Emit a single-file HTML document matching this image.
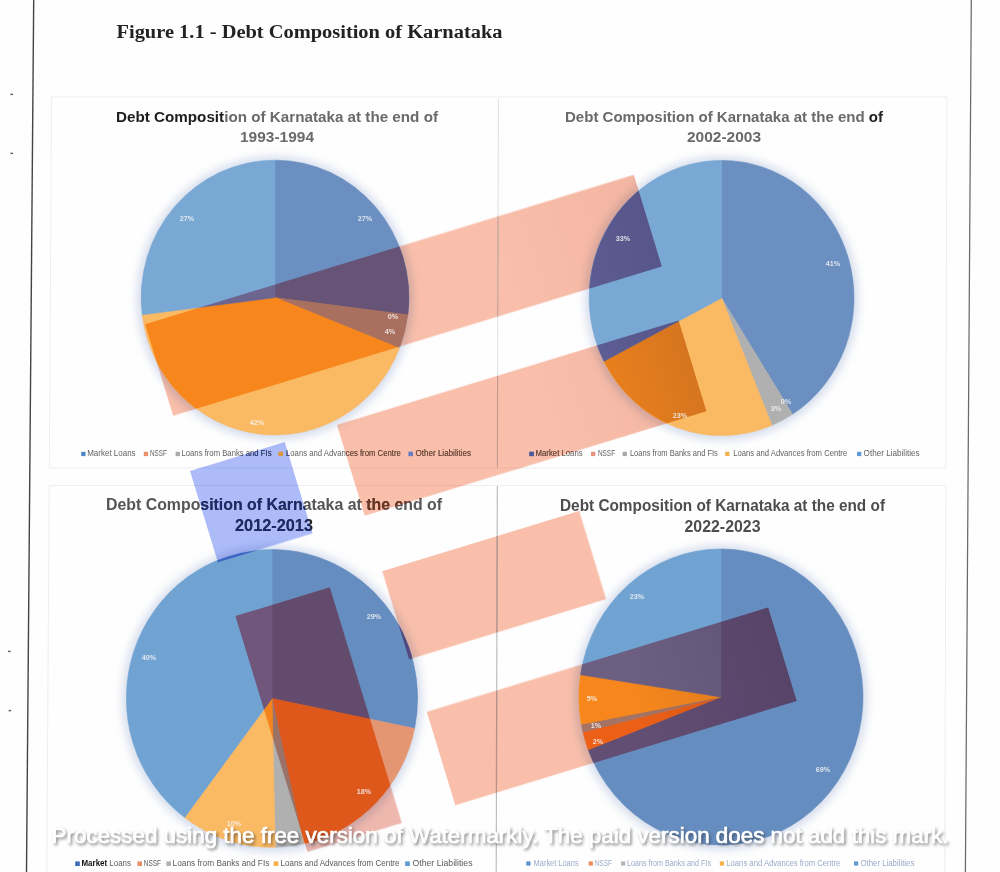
<!DOCTYPE html><html><head><meta charset="utf-8"><title>Figure 1.1</title>
<style>html,body{margin:0;padding:0;background:#fff}svg{display:block}text{font-family:"Liberation Sans",sans-serif}.mul{mix-blend-mode:multiply}</style></head><body>
<svg width="1000" height="872" viewBox="0 0 1000 872">
<defs>
<clipPath id="wS"><rect x="44" y="352.5" width="511.0" height="95.8" transform="rotate(-17.0)"/><rect x="198" y="504.8" width="357.3" height="95.0" transform="rotate(-17.0)"/><rect x="198.5" y="658" width="206.0" height="92.2" transform="rotate(-17.0)"/><rect x="200" y="805.5" width="357.0" height="97.7" transform="rotate(-17.0)"/></clipPath>
<clipPath id="wF"><rect x="45" y="658" width="98.7" height="246.5" transform="rotate(-17.0)"/></clipPath>
<clipPath id="wC"><rect x="44" y="506" width="99.0" height="95.5" transform="rotate(-17.0)"/></clipPath>
<clipPath id="wAll"><rect x="44" y="352.5" width="511.0" height="95.8" transform="rotate(-17.0)"/><rect x="198" y="504.8" width="357.3" height="95.0" transform="rotate(-17.0)"/><rect x="198.5" y="658" width="206.0" height="92.2" transform="rotate(-17.0)"/><rect x="200" y="805.5" width="357.0" height="97.7" transform="rotate(-17.0)"/><rect x="45" y="658" width="98.7" height="246.5" transform="rotate(-17.0)"/><rect x="44" y="506" width="99.0" height="95.5" transform="rotate(-17.0)"/></clipPath>
<clipPath id="wSF"><rect x="44" y="352.5" width="511.0" height="95.8" transform="rotate(-17.0)"/><rect x="198" y="504.8" width="357.3" height="95.0" transform="rotate(-17.0)"/><rect x="198.5" y="658" width="206.0" height="92.2" transform="rotate(-17.0)"/><rect x="200" y="805.5" width="357.0" height="97.7" transform="rotate(-17.0)"/><rect x="45" y="658" width="98.7" height="246.5" transform="rotate(-17.0)"/></clipPath>
<linearGradient id="bg" gradientUnits="userSpaceOnUse" x1="382.5" y1="-116.9" x2="532.7" y2="-162.9"><stop offset="0" stop-color="#1a1030" stop-opacity="0"/><stop offset="1" stop-color="#1a1030" stop-opacity="0.15"/></linearGradient>
<linearGradient id="bgw" gradientUnits="userSpaceOnUse" x1="400" y1="0" x2="557" y2="0"><stop offset="0" stop-color="#a03020" stop-opacity="0"/><stop offset="1" stop-color="#a03020" stop-opacity="0.07"/></linearGradient>
<clipPath id="pc0"><ellipse cx="275.0" cy="297.6" rx="133.8" ry="137.4"/></clipPath>
<clipPath id="pc1"><ellipse cx="721.6" cy="298" rx="132.4" ry="137.6"/></clipPath>
<clipPath id="pc2"><ellipse cx="272" cy="698.4" rx="145.6" ry="148.9"/></clipPath>
<clipPath id="pc3"><ellipse cx="721" cy="697" rx="142" ry="148"/></clipPath>
<filter id="glow" x="-20%" y="-20%" width="140%" height="140%"><feGaussianBlur stdDeviation="4.8"/></filter>
<filter id="tsh" x="-5%" y="-60%" width="110%" height="240%"><feGaussianBlur stdDeviation="1.6"/></filter>
<filter id="soft"><feGaussianBlur stdDeviation="0.45"/></filter>
<filter id="soft2"><feGaussianBlur stdDeviation="0.35"/></filter>
</defs>
<rect width="1000" height="872" fill="#fefefe"/>
<g stroke="#eceef0" stroke-width="1" fill="none"><path d="M51.60,96.8L946.90,96.8L945.89,468L49.30,468Z"/><path d="M46.75,880L49.19,485.5L945.85,485.5L944.78,880"/></g>
<g transform="rotate(-17.0)" filter="url(#soft)">
<rect x="44" y="352.5" width="511.0" height="95.8" fill="#f9bfab"/>
<rect x="198" y="504.8" width="357.3" height="95.0" fill="#f9bfab"/>
<rect x="198.5" y="658" width="206.0" height="92.2" fill="#f9bfab"/>
<rect x="200" y="805.5" width="357.0" height="97.7" fill="#f9bfab"/>
<rect x="45" y="658" width="98.7" height="246.5" fill="#efb8ae"/>
<rect x="44" y="352.5" width="511.0" height="95.8" fill="url(#bgw)"/>
<rect x="198" y="504.8" width="357.3" height="95.0" fill="url(#bgw)"/>
<rect x="198.5" y="658" width="206.0" height="92.2" fill="url(#bgw)"/>
<rect x="200" y="805.5" width="357.0" height="97.7" fill="url(#bgw)"/>
<rect x="44" y="506" width="99.0" height="95.5" fill="#adbbf9"/>
</g>
<line x1="498.40" y1="98" x2="497.35" y2="468" stroke="#dfe2e2" stroke-width="1"/>
<line x1="497.30" y1="486" x2="496.20" y2="872" stroke="#b4baba" stroke-width="1.1"/>
<g clip-path="url(#wSF)"><line x1="498.40" y1="98" x2="497.35" y2="468" stroke="#c89a90" stroke-width="1.2"/><line x1="497.30" y1="486" x2="496.20" y2="872" stroke="#b89088" stroke-width="1.3"/><g stroke="#efb5a3" stroke-width="1" fill="none"><path d="M51.60,96.8L946.90,96.8L945.89,468L49.30,468Z"/><path d="M46.75,880L49.19,485.5L945.85,485.5L944.78,880"/></g></g>
<g clip-path="url(#wC)"><g stroke="#9fafee" stroke-width="1" fill="none"><path d="M51.60,96.8L946.90,96.8L945.89,468L49.30,468Z"/><path d="M46.75,880L49.19,485.5L945.85,485.5L944.78,880"/></g></g>
<line x1="33.7" y1="0" x2="26.5" y2="872" stroke="#454545" stroke-width="1.4"/>
<line x1="971.3" y1="0" x2="965.4" y2="872" stroke="#6a6a6a" stroke-width="1.25"/>
<rect x="10.399999999999999" y="93.7" width="2.6" height="1.4" fill="#5a5a5a"/>
<rect x="10.399999999999999" y="152.70000000000002" width="2.6" height="1.4" fill="#5a5a5a"/>
<rect x="8.1" y="650.6999999999999" width="2.6" height="1.4" fill="#5a5a5a"/>
<rect x="8.6" y="709.9" width="2.6" height="1.4" fill="#5a5a5a"/>
<g filter="url(#soft2)">
<text x="277" y="122" text-anchor="middle" font-size="14.4" font-weight="bold" fill="#6a6a6a" textLength="322" lengthAdjust="spacingAndGlyphs"><tspan fill="#1e1e1e">Debt Composit</tspan>ion of Karnataka at the end of</text><text x="277" y="141.6" text-anchor="middle" font-size="14.4" font-weight="bold" fill="#6a6a6a" textLength="74" lengthAdjust="spacingAndGlyphs">1993-1994</text>
<text x="724" y="122" text-anchor="middle" font-size="14.4" font-weight="bold" fill="#6a6a6a" textLength="318" lengthAdjust="spacingAndGlyphs">Debt Composition of Karnataka at the end <tspan fill="#222">of</tspan></text><text x="724" y="141.6" text-anchor="middle" font-size="14.4" font-weight="bold" fill="#6a6a6a" textLength="74" lengthAdjust="spacingAndGlyphs">2002-2003</text>
<text x="274" y="510.3" text-anchor="middle" font-size="16.2" font-weight="bold" fill="#555555" textLength="336" lengthAdjust="spacingAndGlyphs">Debt Composition of Karnataka at the end of</text><text x="274" y="530.7" text-anchor="middle" font-size="16.2" font-weight="bold" fill="#555555" textLength="78" lengthAdjust="spacingAndGlyphs">2012-201<tspan fill="#222">3</tspan></text>
<text x="722.5" y="511.1" text-anchor="middle" font-size="15.8" font-weight="bold" fill="#4e4e4e" textLength="325" lengthAdjust="spacingAndGlyphs">Debt Composition of Karnataka at the end of</text><text x="722.5" y="531.6" text-anchor="middle" font-size="15.8" font-weight="bold" fill="#4e4e4e" textLength="76" lengthAdjust="spacingAndGlyphs">2022-2023</text>
</g>
<g clip-path="url(#wS)" filter="url(#soft2)">
<text x="277" y="122" text-anchor="middle" font-size="14.4" font-weight="bold" fill="#6b3420" textLength="322" lengthAdjust="spacingAndGlyphs">Debt Composition of Karnataka at the end of</text><text x="277" y="141.6" text-anchor="middle" font-size="14.4" font-weight="bold" fill="#6b3420" textLength="74" lengthAdjust="spacingAndGlyphs">1993-1994</text>
<text x="724" y="122" text-anchor="middle" font-size="14.4" font-weight="bold" fill="#6b3420" textLength="318" lengthAdjust="spacingAndGlyphs">Debt Composition of Karnataka at the end of</text><text x="724" y="141.6" text-anchor="middle" font-size="14.4" font-weight="bold" fill="#6b3420" textLength="74" lengthAdjust="spacingAndGlyphs">2002-2003</text>
<text x="274" y="510.3" text-anchor="middle" font-size="16.2" font-weight="bold" fill="#6b3420" textLength="336" lengthAdjust="spacingAndGlyphs">Debt Composition of Karnataka at the end of</text><text x="274" y="530.7" text-anchor="middle" font-size="16.2" font-weight="bold" fill="#6b3420" textLength="78" lengthAdjust="spacingAndGlyphs">2012-2013</text>
<text x="722.5" y="511.1" text-anchor="middle" font-size="15.8" font-weight="bold" fill="#6b3420" textLength="325" lengthAdjust="spacingAndGlyphs">Debt Composition of Karnataka at the end of</text><text x="722.5" y="531.6" text-anchor="middle" font-size="15.8" font-weight="bold" fill="#6b3420" textLength="76" lengthAdjust="spacingAndGlyphs">2022-2023</text>
</g>
<g clip-path="url(#wC)" filter="url(#soft2)">
<text x="277" y="122" text-anchor="middle" font-size="14.4" font-weight="bold" fill="#1c2a68" textLength="322" lengthAdjust="spacingAndGlyphs">Debt Composition of Karnataka at the end of</text><text x="277" y="141.6" text-anchor="middle" font-size="14.4" font-weight="bold" fill="#1c2a68" textLength="74" lengthAdjust="spacingAndGlyphs">1993-1994</text>
<text x="724" y="122" text-anchor="middle" font-size="14.4" font-weight="bold" fill="#1c2a68" textLength="318" lengthAdjust="spacingAndGlyphs">Debt Composition of Karnataka at the end of</text><text x="724" y="141.6" text-anchor="middle" font-size="14.4" font-weight="bold" fill="#1c2a68" textLength="74" lengthAdjust="spacingAndGlyphs">2002-2003</text>
<text x="274" y="510.3" text-anchor="middle" font-size="16.2" font-weight="bold" fill="#1c2a68" textLength="336" lengthAdjust="spacingAndGlyphs">Debt Composition of Karnataka at the end of</text><text x="274" y="530.7" text-anchor="middle" font-size="16.2" font-weight="bold" fill="#1c2a68" textLength="78" lengthAdjust="spacingAndGlyphs">2012-2013</text>
<text x="722.5" y="511.1" text-anchor="middle" font-size="15.8" font-weight="bold" fill="#1c2a68" textLength="325" lengthAdjust="spacingAndGlyphs">Debt Composition of Karnataka at the end of</text><text x="722.5" y="531.6" text-anchor="middle" font-size="15.8" font-weight="bold" fill="#1c2a68" textLength="76" lengthAdjust="spacingAndGlyphs">2022-2023</text>
</g>
<text x="116.5" y="38" style="font-family:'Liberation Serif',serif" font-size="18.5" font-weight="bold" fill="#222" textLength="386" lengthAdjust="spacingAndGlyphs" filter="url(#soft2)">Figure 1.1 - Debt Composition of Karnataka</text>
<g filter="url(#soft2)"><rect x="81.2" y="451.8" width="4.3" height="4.3" fill="#4f86c6"/><text x="87.2" y="456.3" font-size="9" fill="#626262" textLength="48.4" lengthAdjust="spacingAndGlyphs">Market Loans</text><rect x="143.8" y="451.8" width="4.3" height="4.3" fill="#e8906c"/><text x="150" y="456.3" font-size="9" fill="#626262" textLength="17" lengthAdjust="spacingAndGlyphs">NSSF</text><rect x="175.6" y="451.8" width="4.3" height="4.3" fill="#a8a8a8"/><text x="181.5" y="456.3" font-size="9" fill="#626262" textLength="90" lengthAdjust="spacingAndGlyphs">Loans from Banks and FIs</text><rect x="278.6" y="451.8" width="4.3" height="4.3" fill="#e0963c"/><text x="286" y="456.3" font-size="9" fill="#626262" textLength="114.8" lengthAdjust="spacingAndGlyphs">Loans and Advances from Centre</text><rect x="408.6" y="451.8" width="4.3" height="4.3" fill="#6a7ec8"/><text x="415.5" y="456.3" font-size="9" fill="#626262" textLength="55.5" lengthAdjust="spacingAndGlyphs">Other Liabilities</text><rect x="529.4" y="451.8" width="4.3" height="4.3" fill="#4a5a9c"/><text x="535.6" y="456.3" font-size="9" fill="#626262" textLength="47" lengthAdjust="spacingAndGlyphs">Market Loans</text><rect x="591" y="451.8" width="4.3" height="4.3" fill="#e8907a"/><text x="597.9" y="456.3" font-size="9" fill="#626262" textLength="17.2" lengthAdjust="spacingAndGlyphs">NSSF</text><rect x="622.6" y="451.8" width="4.3" height="4.3" fill="#a8a8a8"/><text x="629.9" y="456.3" font-size="9" fill="#626262" textLength="88" lengthAdjust="spacingAndGlyphs">Loans from Banks and FIs</text><rect x="725.2" y="451.8" width="4.3" height="4.3" fill="#f2b050"/><text x="733.2" y="456.3" font-size="9" fill="#626262" textLength="114" lengthAdjust="spacingAndGlyphs">Loans and Advances from Centre</text><rect x="857" y="451.8" width="4.3" height="4.3" fill="#5c9bd8"/><text x="863.6" y="456.3" font-size="9" fill="#626262" textLength="56" lengthAdjust="spacingAndGlyphs">Other Liabilities</text><rect x="75.2" y="861.4" width="4.6" height="4.6" fill="#3c6cb8"/><text x="81.5" y="865.7" font-size="9.3" fill="#5a5a5a" textLength="49.5" lengthAdjust="spacingAndGlyphs"><tspan font-weight="bold" fill="#111">Market</tspan> Loans</text><rect x="137.4" y="861.4" width="4.6" height="4.6" fill="#e8906c"/><text x="143.8" y="865.7" font-size="9.3" fill="#5a5a5a" textLength="17.2" lengthAdjust="spacingAndGlyphs">NSSF</text><rect x="166.4" y="861.4" width="4.6" height="4.6" fill="#b0b0b0"/><text x="172.6" y="865.7" font-size="9.3" fill="#5a5a5a" textLength="96.8" lengthAdjust="spacingAndGlyphs">Loans from Banks and FIs</text><rect x="273.7" y="861.4" width="4.6" height="4.6" fill="#f5b04a"/><text x="280.5" y="865.7" font-size="9.3" fill="#5a5a5a" textLength="119" lengthAdjust="spacingAndGlyphs">Loans and Advances from Centre</text><rect x="405.2" y="861.4" width="4.6" height="4.6" fill="#5c9bd8"/><text x="412.5" y="865.7" font-size="9.3" fill="#5a5a5a" textLength="60" lengthAdjust="spacingAndGlyphs">Other Liabilities</text><rect x="526.3" y="861.4" width="4.2" height="4.2" fill="#5b8ed0"/><text x="533.6" y="865.7" font-size="9" fill="#9cabc8" textLength="45" lengthAdjust="spacingAndGlyphs">Market Loans</text><rect x="588.7" y="861.4" width="4.2" height="4.2" fill="#ee8c5a"/><text x="594.7" y="865.7" font-size="9" fill="#9cabc8" textLength="17.2" lengthAdjust="spacingAndGlyphs">NSSF</text><rect x="621" y="861.4" width="4.2" height="4.2" fill="#b4b4bc"/><text x="627" y="865.7" font-size="9" fill="#9cabc8" textLength="84" lengthAdjust="spacingAndGlyphs">Loans from Banks and FIs</text><rect x="719.8" y="861.4" width="4.2" height="4.2" fill="#f5b04a"/><text x="726.3" y="865.7" font-size="9" fill="#9cabc8" textLength="114" lengthAdjust="spacingAndGlyphs">Loans and Advances from Centre</text><rect x="854" y="861.4" width="4.2" height="4.2" fill="#5c9bd8"/><text x="860.4" y="865.7" font-size="9" fill="#9cabc8" textLength="54" lengthAdjust="spacingAndGlyphs">Other Liabilities</text></g>
<g clip-path="url(#wS)" filter="url(#soft2)"><rect x="81.2" y="451.8" width="4.3" height="4.3" fill="#4f86c6"/><text x="87.2" y="456.3" font-size="9" fill="#7a4632" textLength="48.4" lengthAdjust="spacingAndGlyphs">Market Loans</text><rect x="143.8" y="451.8" width="4.3" height="4.3" fill="#e8906c"/><text x="150" y="456.3" font-size="9" fill="#7a4632" textLength="17" lengthAdjust="spacingAndGlyphs">NSSF</text><rect x="175.6" y="451.8" width="4.3" height="4.3" fill="#a8a8a8"/><text x="181.5" y="456.3" font-size="9" fill="#7a4632" textLength="90" lengthAdjust="spacingAndGlyphs">Loans from Banks and FIs</text><rect x="278.6" y="451.8" width="4.3" height="4.3" fill="#e0963c"/><text x="286" y="456.3" font-size="9" fill="#7a4632" textLength="114.8" lengthAdjust="spacingAndGlyphs">Loans and Advances from Centre</text><rect x="408.6" y="451.8" width="4.3" height="4.3" fill="#6a7ec8"/><text x="415.5" y="456.3" font-size="9" fill="#7a4632" textLength="55.5" lengthAdjust="spacingAndGlyphs">Other Liabilities</text><rect x="529.4" y="451.8" width="4.3" height="4.3" fill="#4a5a9c"/><text x="535.6" y="456.3" font-size="9" fill="#7a4632" textLength="47" lengthAdjust="spacingAndGlyphs">Market Loans</text><rect x="591" y="451.8" width="4.3" height="4.3" fill="#e8907a"/><text x="597.9" y="456.3" font-size="9" fill="#7a4632" textLength="17.2" lengthAdjust="spacingAndGlyphs">NSSF</text><rect x="622.6" y="451.8" width="4.3" height="4.3" fill="#a8a8a8"/><text x="629.9" y="456.3" font-size="9" fill="#7a4632" textLength="88" lengthAdjust="spacingAndGlyphs">Loans from Banks and FIs</text><rect x="725.2" y="451.8" width="4.3" height="4.3" fill="#f2b050"/><text x="733.2" y="456.3" font-size="9" fill="#7a4632" textLength="114" lengthAdjust="spacingAndGlyphs">Loans and Advances from Centre</text><rect x="857" y="451.8" width="4.3" height="4.3" fill="#5c9bd8"/><text x="863.6" y="456.3" font-size="9" fill="#7a4632" textLength="56" lengthAdjust="spacingAndGlyphs">Other Liabilities</text><rect x="75.2" y="861.4" width="4.6" height="4.6" fill="#3c6cb8"/><text x="81.5" y="865.7" font-size="9.3" fill="#7a4632" textLength="49.5" lengthAdjust="spacingAndGlyphs"><tspan font-weight="bold" fill="#111">Market</tspan> Loans</text><rect x="137.4" y="861.4" width="4.6" height="4.6" fill="#e8906c"/><text x="143.8" y="865.7" font-size="9.3" fill="#7a4632" textLength="17.2" lengthAdjust="spacingAndGlyphs">NSSF</text><rect x="166.4" y="861.4" width="4.6" height="4.6" fill="#b0b0b0"/><text x="172.6" y="865.7" font-size="9.3" fill="#7a4632" textLength="96.8" lengthAdjust="spacingAndGlyphs">Loans from Banks and FIs</text><rect x="273.7" y="861.4" width="4.6" height="4.6" fill="#f5b04a"/><text x="280.5" y="865.7" font-size="9.3" fill="#7a4632" textLength="119" lengthAdjust="spacingAndGlyphs">Loans and Advances from Centre</text><rect x="405.2" y="861.4" width="4.6" height="4.6" fill="#5c9bd8"/><text x="412.5" y="865.7" font-size="9.3" fill="#7a4632" textLength="60" lengthAdjust="spacingAndGlyphs">Other Liabilities</text><rect x="526.3" y="861.4" width="4.2" height="4.2" fill="#5b8ed0"/><text x="533.6" y="865.7" font-size="9" fill="#7a4632" textLength="45" lengthAdjust="spacingAndGlyphs">Market Loans</text><rect x="588.7" y="861.4" width="4.2" height="4.2" fill="#ee8c5a"/><text x="594.7" y="865.7" font-size="9" fill="#7a4632" textLength="17.2" lengthAdjust="spacingAndGlyphs">NSSF</text><rect x="621" y="861.4" width="4.2" height="4.2" fill="#b4b4bc"/><text x="627" y="865.7" font-size="9" fill="#7a4632" textLength="84" lengthAdjust="spacingAndGlyphs">Loans from Banks and FIs</text><rect x="719.8" y="861.4" width="4.2" height="4.2" fill="#f5b04a"/><text x="726.3" y="865.7" font-size="9" fill="#7a4632" textLength="114" lengthAdjust="spacingAndGlyphs">Loans and Advances from Centre</text><rect x="854" y="861.4" width="4.2" height="4.2" fill="#5c9bd8"/><text x="860.4" y="865.7" font-size="9" fill="#7a4632" textLength="54" lengthAdjust="spacingAndGlyphs">Other Liabilities</text></g>
<g clip-path="url(#wC)" filter="url(#soft2)"><rect x="81.2" y="451.8" width="4.3" height="4.3" fill="#4f86c6"/><text x="87.2" y="456.3" font-size="9" fill="#27357a" textLength="48.4" lengthAdjust="spacingAndGlyphs">Market Loans</text><rect x="143.8" y="451.8" width="4.3" height="4.3" fill="#e8906c"/><text x="150" y="456.3" font-size="9" fill="#27357a" textLength="17" lengthAdjust="spacingAndGlyphs">NSSF</text><rect x="175.6" y="451.8" width="4.3" height="4.3" fill="#a8a8a8"/><text x="181.5" y="456.3" font-size="9" fill="#27357a" textLength="90" lengthAdjust="spacingAndGlyphs">Loans from Banks and FIs</text><rect x="278.6" y="451.8" width="4.3" height="4.3" fill="#e0963c"/><text x="286" y="456.3" font-size="9" fill="#27357a" textLength="114.8" lengthAdjust="spacingAndGlyphs">Loans and Advances from Centre</text><rect x="408.6" y="451.8" width="4.3" height="4.3" fill="#6a7ec8"/><text x="415.5" y="456.3" font-size="9" fill="#27357a" textLength="55.5" lengthAdjust="spacingAndGlyphs">Other Liabilities</text><rect x="529.4" y="451.8" width="4.3" height="4.3" fill="#4a5a9c"/><text x="535.6" y="456.3" font-size="9" fill="#27357a" textLength="47" lengthAdjust="spacingAndGlyphs">Market Loans</text><rect x="591" y="451.8" width="4.3" height="4.3" fill="#e8907a"/><text x="597.9" y="456.3" font-size="9" fill="#27357a" textLength="17.2" lengthAdjust="spacingAndGlyphs">NSSF</text><rect x="622.6" y="451.8" width="4.3" height="4.3" fill="#a8a8a8"/><text x="629.9" y="456.3" font-size="9" fill="#27357a" textLength="88" lengthAdjust="spacingAndGlyphs">Loans from Banks and FIs</text><rect x="725.2" y="451.8" width="4.3" height="4.3" fill="#f2b050"/><text x="733.2" y="456.3" font-size="9" fill="#27357a" textLength="114" lengthAdjust="spacingAndGlyphs">Loans and Advances from Centre</text><rect x="857" y="451.8" width="4.3" height="4.3" fill="#5c9bd8"/><text x="863.6" y="456.3" font-size="9" fill="#27357a" textLength="56" lengthAdjust="spacingAndGlyphs">Other Liabilities</text><rect x="75.2" y="861.4" width="4.6" height="4.6" fill="#3c6cb8"/><text x="81.5" y="865.7" font-size="9.3" fill="#27357a" textLength="49.5" lengthAdjust="spacingAndGlyphs"><tspan font-weight="bold" fill="#111">Market</tspan> Loans</text><rect x="137.4" y="861.4" width="4.6" height="4.6" fill="#e8906c"/><text x="143.8" y="865.7" font-size="9.3" fill="#27357a" textLength="17.2" lengthAdjust="spacingAndGlyphs">NSSF</text><rect x="166.4" y="861.4" width="4.6" height="4.6" fill="#b0b0b0"/><text x="172.6" y="865.7" font-size="9.3" fill="#27357a" textLength="96.8" lengthAdjust="spacingAndGlyphs">Loans from Banks and FIs</text><rect x="273.7" y="861.4" width="4.6" height="4.6" fill="#f5b04a"/><text x="280.5" y="865.7" font-size="9.3" fill="#27357a" textLength="119" lengthAdjust="spacingAndGlyphs">Loans and Advances from Centre</text><rect x="405.2" y="861.4" width="4.6" height="4.6" fill="#5c9bd8"/><text x="412.5" y="865.7" font-size="9.3" fill="#27357a" textLength="60" lengthAdjust="spacingAndGlyphs">Other Liabilities</text><rect x="526.3" y="861.4" width="4.2" height="4.2" fill="#5b8ed0"/><text x="533.6" y="865.7" font-size="9" fill="#27357a" textLength="45" lengthAdjust="spacingAndGlyphs">Market Loans</text><rect x="588.7" y="861.4" width="4.2" height="4.2" fill="#ee8c5a"/><text x="594.7" y="865.7" font-size="9" fill="#27357a" textLength="17.2" lengthAdjust="spacingAndGlyphs">NSSF</text><rect x="621" y="861.4" width="4.2" height="4.2" fill="#b4b4bc"/><text x="627" y="865.7" font-size="9" fill="#27357a" textLength="84" lengthAdjust="spacingAndGlyphs">Loans from Banks and FIs</text><rect x="719.8" y="861.4" width="4.2" height="4.2" fill="#f5b04a"/><text x="726.3" y="865.7" font-size="9" fill="#27357a" textLength="114" lengthAdjust="spacingAndGlyphs">Loans and Advances from Centre</text><rect x="854" y="861.4" width="4.2" height="4.2" fill="#5c9bd8"/><text x="860.4" y="865.7" font-size="9" fill="#27357a" textLength="54" lengthAdjust="spacingAndGlyphs">Other Liabilities</text></g>
<ellipse class="mul" cx="275.0" cy="298.1" rx="137.8" ry="141.4" fill="#d3dcec" filter="url(#glow)"/>
<g filter="url(#soft)"><path d="M275.0,297.6L275.00,160.20A133.8,137.4 0 0 1 407.74,314.82Z" fill="#6a8fc0" stroke="#6a8fc0" stroke-width="0.6"/><path d="M275.0,297.6L407.74,314.82A133.8,137.4 0 0 1 399.40,348.18Z" fill="#b0b0b0" stroke="#b0b0b0" stroke-width="0.6"/><path d="M275.0,297.6L399.40,348.18A133.8,137.4 0 0 1 142.26,314.82Z" fill="#fab964" stroke="#fab964" stroke-width="0.6"/><path d="M275.0,297.6L142.26,314.82A133.8,137.4 0 0 1 275.00,160.20Z" fill="#7aa8d4" stroke="#7aa8d4" stroke-width="0.6"/></g>
<g clip-path="url(#wS)"><g filter="url(#soft)"><path d="M275.0,297.6L275.00,160.20A133.8,137.4 0 0 1 407.74,314.82Z" fill="#665374" stroke="#665374" stroke-width="0.6"/><path d="M275.0,297.6L407.74,314.82A133.8,137.4 0 0 1 399.40,348.18Z" fill="#aa705f" stroke="#aa705f" stroke-width="0.6"/><path d="M275.0,297.6L399.40,348.18A133.8,137.4 0 0 1 142.26,314.82Z" fill="#f7871a" stroke="#f7871a" stroke-width="0.6"/><path d="M275.0,297.6L142.26,314.82A133.8,137.4 0 0 1 275.00,160.20Z" fill="#6c6590" stroke="#6c6590" stroke-width="0.6"/></g></g>
<g clip-path="url(#wS)"><g clip-path="url(#pc0)"><rect x="0" y="0" width="1000" height="872" fill="url(#bg)"/></g></g>
<g clip-path="url(#wF)"><g filter="url(#soft)"><path d="M275.0,297.6L275.00,160.20A133.8,137.4 0 0 1 407.74,314.82Z" fill="#644c6d" stroke="#644c6d" stroke-width="0.6"/><path d="M275.0,297.6L407.74,314.82A133.8,137.4 0 0 1 399.40,348.18Z" fill="#9a7268" stroke="#9a7268" stroke-width="0.6"/><path d="M275.0,297.6L399.40,348.18A133.8,137.4 0 0 1 142.26,314.82Z" fill="#f5841c" stroke="#f5841c" stroke-width="0.6"/><path d="M275.0,297.6L142.26,314.82A133.8,137.4 0 0 1 275.00,160.20Z" fill="#70577a" stroke="#70577a" stroke-width="0.6"/></g></g>
<g clip-path="url(#wC)"><path d="M275.0,297.6L275.00,160.20A133.8,137.4 0 0 1 407.74,314.82Z" fill="#3f63c4"/><path d="M275.0,297.6L407.74,314.82A133.8,137.4 0 0 1 399.40,348.18Z" fill="#3f63c4"/><path d="M275.0,297.6L399.40,348.18A133.8,137.4 0 0 1 142.26,314.82Z" fill="#3f63c4"/><path d="M275.0,297.6L142.26,314.82A133.8,137.4 0 0 1 275.00,160.20Z" fill="#3f63c4"/></g>
<ellipse class="mul" cx="721.6" cy="298.5" rx="136.4" ry="141.6" fill="#d3dcec" filter="url(#glow)"/>
<g filter="url(#soft)"><path d="M721.6,298L721.60,160.40A132.4,137.6 0 0 1 792.54,414.18Z" fill="#6a8fc0" stroke="#6a8fc0" stroke-width="0.6"/><path d="M721.6,298L792.54,414.18A132.4,137.6 0 0 1 771.88,425.29Z" fill="#b0b0b0" stroke="#b0b0b0" stroke-width="0.6"/><path d="M721.6,298L771.88,425.29A132.4,137.6 0 0 1 604.01,361.24Z" fill="#fab964" stroke="#fab964" stroke-width="0.6"/><path d="M721.6,298L604.01,361.24A132.4,137.6 0 0 1 721.60,160.40Z" fill="#7aa8d4" stroke="#7aa8d4" stroke-width="0.6"/></g>
<g clip-path="url(#wS)"><g filter="url(#soft)"><path d="M721.6,298L721.60,160.40A132.4,137.6 0 0 1 792.54,414.18Z" fill="#5e5a86" stroke="#5e5a86" stroke-width="0.6"/><path d="M721.6,298L792.54,414.18A132.4,137.6 0 0 1 771.88,425.29Z" fill="#aa705f" stroke="#aa705f" stroke-width="0.6"/><path d="M721.6,298L771.88,425.29A132.4,137.6 0 0 1 604.01,361.24Z" fill="#f7871a" stroke="#f7871a" stroke-width="0.6"/><path d="M721.6,298L604.01,361.24A132.4,137.6 0 0 1 721.60,160.40Z" fill="#62629a" stroke="#62629a" stroke-width="0.6"/></g></g>
<g clip-path="url(#wS)"><g clip-path="url(#pc1)"><rect x="0" y="0" width="1000" height="872" fill="url(#bg)"/></g></g>
<g clip-path="url(#wF)"><g filter="url(#soft)"><path d="M721.6,298L721.60,160.40A132.4,137.6 0 0 1 792.54,414.18Z" fill="#644c6d" stroke="#644c6d" stroke-width="0.6"/><path d="M721.6,298L792.54,414.18A132.4,137.6 0 0 1 771.88,425.29Z" fill="#9a7268" stroke="#9a7268" stroke-width="0.6"/><path d="M721.6,298L771.88,425.29A132.4,137.6 0 0 1 604.01,361.24Z" fill="#f5841c" stroke="#f5841c" stroke-width="0.6"/><path d="M721.6,298L604.01,361.24A132.4,137.6 0 0 1 721.60,160.40Z" fill="#70577a" stroke="#70577a" stroke-width="0.6"/></g></g>
<g clip-path="url(#wC)"><path d="M721.6,298L721.60,160.40A132.4,137.6 0 0 1 792.54,414.18Z" fill="#3f63c4"/><path d="M721.6,298L792.54,414.18A132.4,137.6 0 0 1 771.88,425.29Z" fill="#3f63c4"/><path d="M721.6,298L771.88,425.29A132.4,137.6 0 0 1 604.01,361.24Z" fill="#3f63c4"/><path d="M721.6,298L604.01,361.24A132.4,137.6 0 0 1 721.60,160.40Z" fill="#3f63c4"/></g>
<ellipse class="mul" cx="272" cy="698.9" rx="149.6" ry="152.9" fill="#d3dcec" filter="url(#glow)"/>
<g filter="url(#soft)"><path d="M272,698.4L272.00,549.50A145.6,148.9 0 0 1 414.59,728.50Z" fill="#668dbf" stroke="#668dbf" stroke-width="0.6"/><path d="M272,698.4L414.59,728.50A145.6,148.9 0 0 1 303.40,843.80Z" fill="#e49673" stroke="#e49673" stroke-width="0.6"/><path d="M272,698.4L303.40,843.80A145.6,148.9 0 0 1 275.29,847.26Z" fill="#b0b0b0" stroke="#b0b0b0" stroke-width="0.6"/><path d="M272,698.4L275.29,847.26A145.6,148.9 0 0 1 184.65,817.53Z" fill="#fab964" stroke="#fab964" stroke-width="0.6"/><path d="M272,698.4L184.65,817.53A145.6,148.9 0 0 1 272.00,549.50Z" fill="#70a3d2" stroke="#70a3d2" stroke-width="0.6"/></g>
<g clip-path="url(#wS)"><g filter="url(#soft)"><path d="M272,698.4L272.00,549.50A145.6,148.9 0 0 1 414.59,728.50Z" fill="#514a7d" stroke="#514a7d" stroke-width="0.6"/><path d="M272,698.4L414.59,728.50A145.6,148.9 0 0 1 303.40,843.80Z" fill="#e2601f" stroke="#e2601f" stroke-width="0.6"/><path d="M272,698.4L303.40,843.80A145.6,148.9 0 0 1 275.29,847.26Z" fill="#aa705f" stroke="#aa705f" stroke-width="0.6"/><path d="M272,698.4L275.29,847.26A145.6,148.9 0 0 1 184.65,817.53Z" fill="#f7871a" stroke="#f7871a" stroke-width="0.6"/><path d="M272,698.4L184.65,817.53A145.6,148.9 0 0 1 272.00,549.50Z" fill="#5c5c8c" stroke="#5c5c8c" stroke-width="0.6"/></g></g>
<g clip-path="url(#wS)"><g clip-path="url(#pc2)"><rect x="0" y="0" width="1000" height="872" fill="url(#bg)"/></g></g>
<g clip-path="url(#wF)"><g filter="url(#soft)"><path d="M272,698.4L272.00,549.50A145.6,148.9 0 0 1 414.59,728.50Z" fill="#644c6d" stroke="#644c6d" stroke-width="0.6"/><path d="M272,698.4L414.59,728.50A145.6,148.9 0 0 1 303.40,843.80Z" fill="#de581e" stroke="#de581e" stroke-width="0.6"/><path d="M272,698.4L303.40,843.80A145.6,148.9 0 0 1 275.29,847.26Z" fill="#9a7268" stroke="#9a7268" stroke-width="0.6"/><path d="M272,698.4L275.29,847.26A145.6,148.9 0 0 1 184.65,817.53Z" fill="#f5841c" stroke="#f5841c" stroke-width="0.6"/><path d="M272,698.4L184.65,817.53A145.6,148.9 0 0 1 272.00,549.50Z" fill="#70577a" stroke="#70577a" stroke-width="0.6"/></g></g>
<g clip-path="url(#wC)"><path d="M272,698.4L272.00,549.50A145.6,148.9 0 0 1 414.59,728.50Z" fill="#3f63c4"/><path d="M272,698.4L414.59,728.50A145.6,148.9 0 0 1 303.40,843.80Z" fill="#3f63c4"/><path d="M272,698.4L303.40,843.80A145.6,148.9 0 0 1 275.29,847.26Z" fill="#3f63c4"/><path d="M272,698.4L275.29,847.26A145.6,148.9 0 0 1 184.65,817.53Z" fill="#3f63c4"/><path d="M272,698.4L184.65,817.53A145.6,148.9 0 0 1 272.00,549.50Z" fill="#3f63c4"/></g>
<ellipse class="mul" cx="721" cy="697.5" rx="146" ry="152" fill="#d3dcec" filter="url(#glow)"/>
<g filter="url(#soft)"><path d="M721,697L721.00,549.00A142,148 0 1 1 588.33,749.75Z" fill="#668dbf" stroke="#668dbf" stroke-width="0.6"/><path d="M721,697L588.33,749.75A142,148 0 0 1 583.03,732.00Z" fill="#e49673" stroke="#e49673" stroke-width="0.6"/><path d="M721,697L583.03,732.00A142,148 0 0 1 581.43,724.28Z" fill="#b0b0b0" stroke="#b0b0b0" stroke-width="0.6"/><path d="M721,697L581.43,724.28A142,148 0 0 1 580.61,674.77Z" fill="#fab964" stroke="#fab964" stroke-width="0.6"/><path d="M721,697L580.61,674.77A142,148 0 0 1 721.00,549.00Z" fill="#70a3d2" stroke="#70a3d2" stroke-width="0.6"/></g>
<g clip-path="url(#wS)"><g filter="url(#soft)"><path d="M721,697L721.00,549.00A142,148 0 1 1 588.33,749.75Z" fill="#624e73" stroke="#624e73" stroke-width="0.6"/><path d="M721,697L588.33,749.75A142,148 0 0 1 583.03,732.00Z" fill="#eb5f19" stroke="#eb5f19" stroke-width="0.6"/><path d="M721,697L583.03,732.00A142,148 0 0 1 581.43,724.28Z" fill="#a57364" stroke="#a57364" stroke-width="0.6"/><path d="M721,697L581.43,724.28A142,148 0 0 1 580.61,674.77Z" fill="#f7871a" stroke="#f7871a" stroke-width="0.6"/><path d="M721,697L580.61,674.77A142,148 0 0 1 721.00,549.00Z" fill="#6c5f82" stroke="#6c5f82" stroke-width="0.6"/></g></g>
<g clip-path="url(#wS)"><g clip-path="url(#pc3)"><rect x="0" y="0" width="1000" height="872" fill="url(#bg)"/></g></g>
<g clip-path="url(#wF)"><g filter="url(#soft)"><path d="M721,697L721.00,549.00A142,148 0 1 1 588.33,749.75Z" fill="#644c6d" stroke="#644c6d" stroke-width="0.6"/><path d="M721,697L588.33,749.75A142,148 0 0 1 583.03,732.00Z" fill="#de581e" stroke="#de581e" stroke-width="0.6"/><path d="M721,697L583.03,732.00A142,148 0 0 1 581.43,724.28Z" fill="#9a7268" stroke="#9a7268" stroke-width="0.6"/><path d="M721,697L581.43,724.28A142,148 0 0 1 580.61,674.77Z" fill="#f5841c" stroke="#f5841c" stroke-width="0.6"/><path d="M721,697L580.61,674.77A142,148 0 0 1 721.00,549.00Z" fill="#70577a" stroke="#70577a" stroke-width="0.6"/></g></g>
<g clip-path="url(#wC)"><path d="M721,697L721.00,549.00A142,148 0 1 1 588.33,749.75Z" fill="#3f63c4"/><path d="M721,697L588.33,749.75A142,148 0 0 1 583.03,732.00Z" fill="#3f63c4"/><path d="M721,697L583.03,732.00A142,148 0 0 1 581.43,724.28Z" fill="#3f63c4"/><path d="M721,697L581.43,724.28A142,148 0 0 1 580.61,674.77Z" fill="#3f63c4"/><path d="M721,697L580.61,674.77A142,148 0 0 1 721.00,549.00Z" fill="#3f63c4"/></g>
<g filter="url(#soft2)">
<text x="187" y="221" text-anchor="middle" font-size="7.2" font-weight="bold" fill="#f4f4f4" opacity="0.85">27%</text>
<text x="365" y="221" text-anchor="middle" font-size="7.2" font-weight="bold" fill="#f4f4f4" opacity="0.85">27%</text>
<text x="393" y="319" text-anchor="middle" font-size="7.2" font-weight="bold" fill="#f4f4f4" opacity="0.85">0%</text>
<text x="390" y="334" text-anchor="middle" font-size="7.2" font-weight="bold" fill="#f4f4f4" opacity="0.85">4%</text>
<text x="257" y="425" text-anchor="middle" font-size="7.2" font-weight="bold" fill="#f4f4f4" opacity="0.85">42%</text>
<text x="623" y="241" text-anchor="middle" font-size="7.2" font-weight="bold" fill="#f4f4f4" opacity="0.85">33%</text>
<text x="833" y="266" text-anchor="middle" font-size="7.2" font-weight="bold" fill="#f4f4f4" opacity="0.85">41%</text>
<text x="786" y="404" text-anchor="middle" font-size="7.2" font-weight="bold" fill="#f4f4f4" opacity="0.85">0%</text>
<text x="776" y="411" text-anchor="middle" font-size="7.2" font-weight="bold" fill="#f4f4f4" opacity="0.85">3%</text>
<text x="680" y="418" text-anchor="middle" font-size="7.2" font-weight="bold" fill="#f4f4f4" opacity="0.85">23%</text>
<text x="149" y="660" text-anchor="middle" font-size="7.2" font-weight="bold" fill="#f4f4f4" opacity="0.85">40%</text>
<text x="374" y="619" text-anchor="middle" font-size="7.2" font-weight="bold" fill="#f4f4f4" opacity="0.85">29%</text>
<text x="364" y="794" text-anchor="middle" font-size="7.2" font-weight="bold" fill="#f4f4f4" opacity="0.85">18%</text>
<text x="234" y="826" text-anchor="middle" font-size="7.2" font-weight="bold" fill="#f4f4f4" opacity="0.85">10%</text>
<text x="637" y="599" text-anchor="middle" font-size="7.2" font-weight="bold" fill="#f4f4f4" opacity="0.85">23%</text>
<text x="823" y="772" text-anchor="middle" font-size="7.2" font-weight="bold" fill="#f4f4f4" opacity="0.85">69%</text>
<text x="592" y="701" text-anchor="middle" font-size="7.2" font-weight="bold" fill="#f4f4f4" opacity="0.85">5%</text>
<text x="596" y="728" text-anchor="middle" font-size="7.2" font-weight="bold" fill="#f4f4f4" opacity="0.85">1%</text>
<text x="598" y="744" text-anchor="middle" font-size="7.2" font-weight="bold" fill="#f4f4f4" opacity="0.85">2%</text>
</g>
<text x="51.6" y="843.2" font-size="21.5" fill="#2c2c2c" opacity="0.55" filter="url(#tsh)" transform="translate(1.6,2.2)" textLength="897" lengthAdjust="spacingAndGlyphs" stroke="#2c2c2c" stroke-width="0.6">Processed using the free version of Watermarkly. The paid version does not add this mark.</text>
<text x="51.6" y="843.2" font-size="21.5" fill="#ffffff" stroke="#ffffff" stroke-width="0.7" textLength="897" lengthAdjust="spacingAndGlyphs">Processed using the free version of Watermarkly. The paid version does not add this mark.</text>
</svg></body></html>
